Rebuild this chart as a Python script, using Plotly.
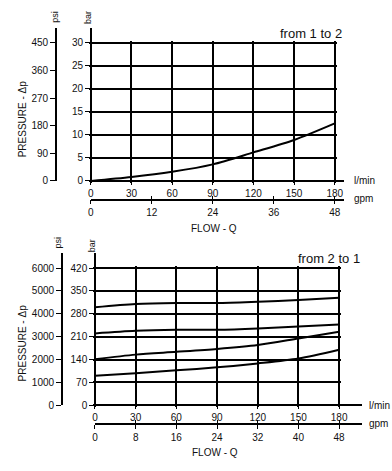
import plotly.graph_objects as go

W, H = 392, 471

# ---------------- data ----------------
flow_lmin = [0, 30, 60, 90, 120, 150, 180]
dp_1to2_bar = [0, 0.86, 2.0, 3.6, 6.2, 8.9, 12.5]
dp_2to1_a = [300, 310, 313, 313, 317, 322, 329]
dp_2to1_b = [220, 228, 231, 231, 235, 241, 247]
dp_2to1_c = [141, 155, 163.5, 172.5, 184.6, 204.6, 225]
dp_2to1_d = [90, 98, 107, 116, 128, 143, 170]

lmin_ticks = [0, 30, 60, 90, 120, 150, 180]
gpm_ticks_top = [0, 12, 24, 36, 48]
gpm_ticks_bot = [0, 8, 16, 24, 32, 40, 48]
bar_ticks_top = [0, 5, 10, 15, 20, 25, 30]
psi_ticks_top = [0, 90, 180, 270, 360, 450]
bar_ticks_bot = [0, 70, 140, 210, 280, 350, 420]
psi_ticks_bot = [0, 1000, 2000, 3000, 4000, 5000, 6000]

FONT = "Liberation Sans, Arial, sans-serif"
NARROW = "Liberation Sans Narrow, Liberation Sans, Arial, sans-serif"
INK = "#111111"


def px(x):
    return x / W


def py(y):
    return 1 - y / H


fig = go.Figure()
layout = {}
annotations = []
PAD = 2.0  # px of slack around the grid box so the edge gridlines are drawn


def build(n, x0, x1, y0, y1, xext, gpm_y, ytop, psi_x,
          bar_ticks, psi_ticks, gpm_ticks, series, title, title_y,
          press_y, psi_lab, bar_lab, lab_x, lmin_y, gpm_lab_y, flow_xy):
    gx, gy = f"x{n}", f"y{n}"
    lx, gx1, gx2 = f"x{n+1}", f"x{n+2}", f"x{n+3}"
    by, psy = f"y{n+1}", f"y{n+2}"

    def key(a):
        return ("xaxis" if a[0] == "x" else "yaxis") + a[1:]

    xmax = lmin_ticks[-1]
    ymax = bar_ticks[-1]
    kx = (xext - x0) / (x1 - x0)
    ky = (y0 - ytop) / (y0 - y1)
    psi_per_bar = psi_ticks[-1] / ymax
    tf = dict(family=FONT, size=10, color=INK)
    ux = xmax / (x1 - x0)   # units per px
    uy = ymax / (y0 - y1)

    layout[key(gx)] = dict(domain=[px(x0 - PAD), px(x1 + PAD)],
                           range=[-PAD * ux, xmax + PAD * ux], tickvals=lmin_ticks,
                           showgrid=True, gridcolor="black", gridwidth=1.5,
                           showticklabels=False, ticks="", showline=False, zeroline=False,
                           anchor=gy, fixedrange=True)
    layout[key(gy)] = dict(domain=[py(y0 + PAD), py(y1 - PAD)],
                           range=[-PAD * uy, ymax + PAD * uy], tickvals=bar_ticks,
                           showgrid=True, gridcolor="black", gridwidth=1.5,
                           showticklabels=False, ticks="", showline=False, zeroline=False,
                           anchor=gx, fixedrange=True)
    layout[key(lx)] = dict(domain=[px(x0), px(xext)], range=[0, xmax * kx], tickvals=lmin_ticks,
                           showgrid=False, zeroline=False, showline=True, linecolor="black",
                           linewidth=1.5, ticks="outside", ticklen=3, tickwidth=1.2,
                           tickcolor="black", anchor="free", position=py(y0),
                           tickfont=tf, fixedrange=True)
    gmax = gpm_ticks[-1]
    layout[key(gx1)] = dict(domain=[px(x0), px(xext)], range=[0, gmax * kx], tickvals=gpm_ticks,
                            showgrid=False, zeroline=False, showline=True, linecolor="black",
                            linewidth=1.5, ticks="outside", ticklen=4, tickwidth=1.2,
                            tickcolor="black", anchor="free", position=py(gpm_y),
                            tickfont=tf, fixedrange=True)
    layout[key(gx2)] = dict(domain=[px(x0), px(xext)], range=[0, gmax * kx], tickvals=gpm_ticks,
                            showgrid=False, zeroline=False, showline=False,
                            ticks="inside", ticklen=4, tickwidth=1.2, tickcolor="black",
                            showticklabels=False, anchor="free", position=py(gpm_y),
                            fixedrange=True)
    layout[key(by)] = dict(domain=[py(y0), py(ytop)], range=[0, ymax * ky], tickvals=bar_ticks,
                           showgrid=False, zeroline=False, showline=True, linecolor="black",
                           linewidth=1.5, ticks="outside", ticklen=5, tickwidth=1.2,
                           tickcolor="black", anchor="free", position=px(x0), side="left",
                           tickfont=tf, fixedrange=True)
    layout[key(psy)] = dict(domain=[py(y0), py(ytop)], range=[0, ymax * ky * psi_per_bar],
                            tickvals=psi_ticks,
                            showgrid=False, zeroline=False, showline=True, linecolor="black",
                            linewidth=1.5, ticks="outside", ticklen=5, tickwidth=1.2,
                            tickcolor="black", anchor="free", position=px(psi_x), side="left",
                            tickfont=tf, fixedrange=True)

    # empty traces that only pair the extra (grid-less) axes, so every axis is drawn
    for xa, ya in [(lx, by), (gx1, psy), (gx2, by)]:
        fig.add_trace(go.Scatter(x=[None], y=[None], xaxis=xa, yaxis=ya, mode="lines",
                                 showlegend=False, hoverinfo="skip"))
    for s in series:
        fig.add_trace(go.Scatter(x=flow_lmin, y=s, xaxis=gx, yaxis=gy, mode="lines",
                                 line=dict(color="black", width=2, shape="spline", smoothing=0.8),
                                 showlegend=False, hoverinfo="skip", cliponaxis=False))

    annotations.extend([
        dict(text=title, x=px(xext), y=py(title_y), xanchor="right", yanchor="middle",
             font=dict(family=FONT, size=13, color=INK)),
        dict(text="PRESSURE - Δp", x=px(20), y=py(press_y), textangle=-90,
             xanchor="center", yanchor="middle", font=dict(family=NARROW, size=10, color=INK)),
        dict(text="psi", x=px(psi_lab[0]), y=py(psi_lab[1]), textangle=-90,
             xanchor="center", yanchor="middle", font=dict(family=FONT, size=9, color=INK)),
        dict(text="bar", x=px(bar_lab[0]), y=py(bar_lab[1]), textangle=-90,
             xanchor="center", yanchor="middle", font=dict(family=FONT, size=9, color=INK)),
        dict(text="l/min", x=px(lab_x), y=py(lmin_y), xanchor="left", yanchor="middle",
             font=dict(family=FONT, size=10, color=INK)),
        dict(text="gpm", x=px(lab_x), y=py(gpm_lab_y), xanchor="left", yanchor="middle",
             font=dict(family=FONT, size=10, color=INK)),
        dict(text="FLOW - Q", x=px(flow_xy[0]), y=py(flow_xy[1]), xanchor="center",
             yanchor="middle", font=dict(family=FONT, size=10, color=INK)),
    ])


build(1, 88.5, 334.3, 183.3, 43.3, 343.3, 202.3, 28.3, 53.3,
      bar_ticks_top, psi_ticks_top, gpm_ticks_top, [dp_1to2_bar],
      "from 1 to 2", 33.5, 120, (53, 17.5), (85, 18), 351.7, 183.3, 201.5, (212.5, 231))

build(5, 92.7, 338.7, 410.5, 271.5, 361.7, 429.3, 256.5, 59.3,
      bar_ticks_bot, psi_ticks_bot, gpm_ticks_bot,
      [dp_2to1_a, dp_2to1_b, dp_2to1_c, dp_2to1_d],
      "from 2 to 1", 262, 347, (55.5, 245.5), (90, 249), 366.7, 410.5, 429, (214, 458.5))

for a in annotations:
    a.update(xref="paper", yref="paper", showarrow=False)

fig.update_layout(
    width=W, height=H, autosize=False,
    margin=dict(l=0, r=0, t=0, b=0, pad=0),
    paper_bgcolor="white", plot_bgcolor="rgba(0,0,0,0)",
    annotations=annotations,
    showlegend=False,
    **layout,
)

fig.write_html("out.html", config={"displayModeBar": False},
               post_script="document.body.style.margin='0';document.body.style.overflow='hidden';")
